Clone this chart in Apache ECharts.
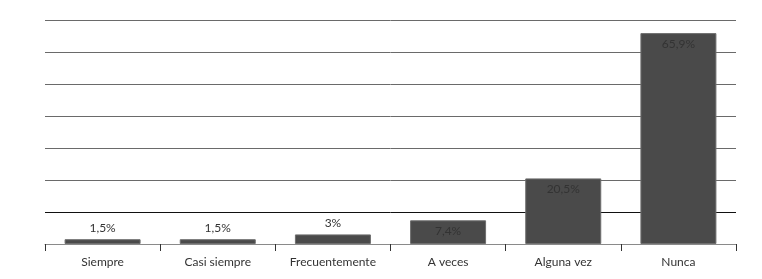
<!DOCTYPE html>
<html><head><meta charset="utf-8">
<script src="https://cdn.jsdelivr.net/npm/echarts@6/dist/echarts.min.js"></script>
<style>html,body{margin:0;padding:0;background:#fff}#c{width:762px;height:279px}</style>
</head><body><div id="c"></div>
<script>
const categories = ['Siempre', 'Casi siempre', 'Frecuentemente', 'A veces', 'Alguna vez', 'Nunca'];
const values = [1.5, 1.5, 3, 7.4, 20.5, 65.9];
const insideThreshold = 5;

const chart = echarts.init(document.getElementById('c'), null, {renderer: 'canvas'});
const fmt = v => String(v).replace('.', ',') + '%';
chart.setOption({
  animation: false,
  textStyle: {fontFamily: 'Lato'},
  grid: {left: 45, right: 26, top: 20, bottom: 35},
  xAxis: {
    type: 'category',
    data: categories,
    axisLine: {lineStyle: {color: '#8a8a8a', width: 1}},
    axisTick: {show: true, length: 7, lineStyle: {color: '#333'}},
    axisLabel: {color: '#333', fontSize: 12, fontFamily: 'Lato', margin: 12}
  },
  yAxis: {
    type: 'value', min: 0, max: 70, interval: 10,
    axisLabel: {show: false}, axisLine: {show: false}, axisTick: {show: false},
    splitLine: {lineStyle: {color: ['#000', '#111', '#6a6a6a', '#6a6a6a', '#6a6a6a', '#6a6a6a', '#6a6a6a', '#6a6a6a'], width: 1}}
  },
  series: [{
    type: 'bar',
    barWidth: '66%',
    itemStyle: {color: '#4a4a4a', borderColor: '#6e6e6e', borderWidth: 1},
    data: values.map(v => ({
      value: v,
      label: {
        show: true,
        position: v > insideThreshold ? 'insideTop' : 'top',
        distance: 5,
        formatter: p => fmt(p.value),
        color: '#333', fontSize: 12, fontFamily: 'Lato'
      }
    }))
  }]
});
</script></body></html>
